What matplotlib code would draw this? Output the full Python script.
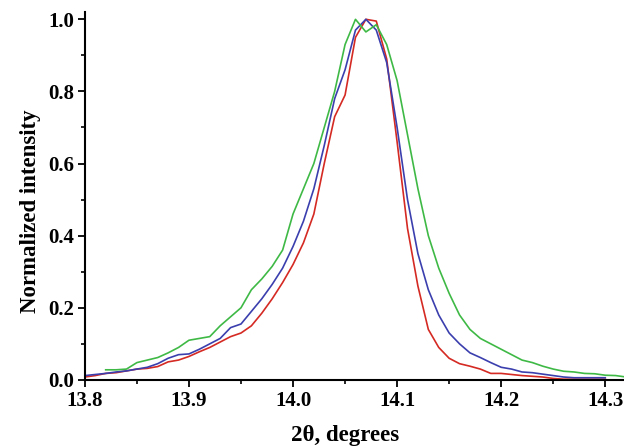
import numpy as np
import matplotlib
matplotlib.use("Agg")
import matplotlib.pyplot as plt
from matplotlib.ticker import MultipleLocator, FormatStrFormatter

# x grid of the scans (step 0.01 deg)
x_red = np.round(np.arange(13.80, 14.305, 0.01), 2)
x_blue = np.round(np.arange(13.80, 14.305, 0.01), 2)
x_green = np.round(np.arange(13.82, 14.325, 0.01), 2)

red = [0.008, 0.012, 0.018, 0.020, 0.025, 0.030, 0.032, 0.037, 0.050, 0.055,
       0.065, 0.078, 0.090, 0.105, 0.120, 0.130, 0.150, 0.185, 0.225, 0.270,
       0.320, 0.380, 0.460, 0.600, 0.730, 0.790, 0.950, 1.000, 0.995, 0.890,
       0.660, 0.420, 0.260, 0.140, 0.090, 0.060, 0.045, 0.038, 0.030, 0.018,
       0.018, 0.015, 0.012, 0.010, 0.008, 0.004, 0.002, 0.002, 0.002, 0.002,
       0.002]

blue = [0.012, 0.015, 0.018, 0.022, 0.025, 0.030, 0.035, 0.045, 0.060, 0.070,
        0.072, 0.085, 0.100, 0.115, 0.145, 0.155, 0.190, 0.225, 0.265, 0.310,
        0.370, 0.440, 0.530, 0.650, 0.780, 0.860, 0.970, 1.000, 0.970, 0.880,
        0.700, 0.500, 0.350, 0.250, 0.180, 0.130, 0.100, 0.075, 0.062, 0.048,
        0.035, 0.030, 0.022, 0.020, 0.016, 0.012, 0.008, 0.006, 0.006, 0.006,
        0.006]

green = [0.028, 0.028, 0.030, 0.048, 0.055, 0.062, 0.075, 0.090, 0.110, 0.115,
         0.120, 0.150, 0.175, 0.200, 0.250, 0.280, 0.315, 0.360, 0.460, 0.530,
         0.600, 0.700, 0.800, 0.930, 1.000, 0.965, 0.985, 0.930, 0.830, 0.680,
         0.530, 0.400, 0.310, 0.240, 0.180, 0.140, 0.115, 0.100, 0.085, 0.070,
         0.055, 0.048, 0.038, 0.030, 0.024, 0.022, 0.018, 0.017, 0.013, 0.012,
         0.008]

plt.rcParams["font.family"] = ["Liberation Serif", "DejaVu Serif"]
plt.rcParams["font.weight"] = "bold"

fig = plt.figure(figsize=(6.24, 4.48), dpi=100)
ax = fig.add_axes([0.136, 0.152, 0.864, 0.821])

ax.plot(x_red, red, color="#d42a23", lw=1.2)
ax.plot(x_blue, blue, color="#3b3fae", lw=1.2)
ax.plot(x_green, green, color="#3fb946", lw=1.2)

ax.set_xlim(13.8, 14.318)
ax.set_ylim(0, 1.02)
ax.xaxis.set_major_locator(MultipleLocator(0.1))
ax.xaxis.set_minor_locator(MultipleLocator(0.05))
ax.yaxis.set_major_locator(MultipleLocator(0.2))
ax.yaxis.set_minor_locator(MultipleLocator(0.1))
ax.xaxis.set_major_formatter(FormatStrFormatter("%.1f"))
ax.yaxis.set_major_formatter(FormatStrFormatter("%.1f"))

for s in ["top", "right"]:
    ax.spines[s].set_visible(False)
for s in ["left", "bottom"]:
    ax.spines[s].set_linewidth(1.5)

ax.tick_params(which="major", direction="out", length=5, width=1.3, labelsize=15, pad=3)
ax.tick_params(which="minor", direction="out", length=3, width=1.2)

ax.set_xlabel("2θ, degrees", fontsize=16.5, fontweight="bold", labelpad=10, x=0.482)
ax.set_ylabel("Normalized intensity", fontsize=16.5, fontweight="bold", labelpad=5, y=0.46)

fig.savefig("out.png", dpi=100)
